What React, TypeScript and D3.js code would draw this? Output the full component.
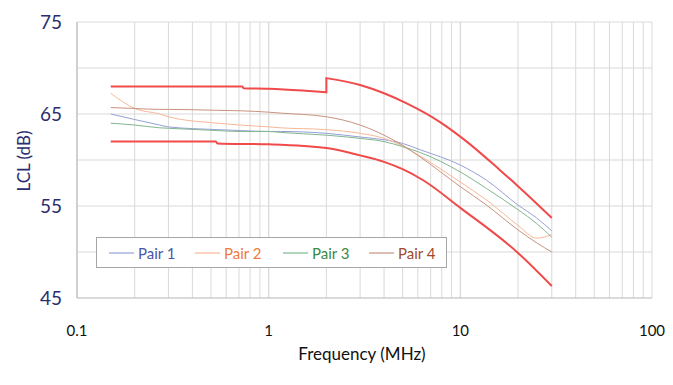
import React, { useEffect, useRef } from "react";
import * as d3 from "d3";

// frequencies (MHz) sampled for the four pairs
const pairFreqs = [0.15, 0.2, 0.27, 0.3, 0.54, 0.71, 1.0, 1.15, 2.0, 3.0, 4.0, 5.0, 6.2, 10, 13.7, 20, 25, 30];
const pair1 = [65.0, 64.4, 63.8, 63.6, 63.3, 63.2, 63.1, 63.1, 62.9, 62.5, 62.2, 61.8, 61.1, 59.45, 57.8, 55.1, 53.7, 52.3];
const pair2 = [67.25, 65.6, 65.0, 64.7, 64.0, 63.8, 63.6, 63.5, 63.3, 62.9, 62.35, 61.5, 60.4, 57.6, 55.65, 52.9, 51.5, 51.9];
const pair3 = [64.0, 63.8, 63.5, 63.45, 63.2, 63.1, 63.1, 63.0, 62.7, 62.35, 62.0, 61.45, 60.8, 58.7, 56.9, 54.6, 53.1, 51.6];
const pair4 = [65.7, 65.6, 65.5, 65.5, 65.4, 65.35, 65.2, 65.1, 64.7, 63.8, 62.7, 61.6, 60.3, 57.1, 55.1, 52.4, 51.0, 50.0];

// limit lines (upper one jumps at 2 MHz)
const upperLowFreqs = [0.15, 0.73, 0.74, 1.0, 1.5, 2.0];
const upperLowVals = [68.0, 68.0, 67.8, 67.75, 67.55, 67.35];
const upperHighFreqs = [2.0, 3.0, 4.0, 5.25, 7.8, 10.8, 16, 20, 30];
const upperHighVals = [68.9, 68.15, 67.25, 66.15, 64.15, 62.0, 58.95, 57.15, 53.7];
const lowerFreqs = [0.15, 0.53, 0.54, 1.0, 2.0, 3.0, 4.0, 5.0, 6.4, 10, 20, 30];
const lowerVals = [62.0, 62.0, 61.8, 61.7, 61.3, 60.5, 59.8, 59.0, 57.8, 54.8, 49.9, 46.3];

const seriesNames = ["Pair 1", "Pair 2", "Pair 3", "Pair 4"];
const lineColors = ["#97a0d6", "#f8b897", "#80b78f", "#c9927f"];
const textColors = ["#4a56aa", "#f07a3c", "#3a8a44", "#a04a2c"];

const yTicks = [45, 55, 65, 75];
const xTicks = [0.1, 1, 10, 100];
const xTickLabels = ["0.1", "1", "10", "100"];

const W = 673;
const H = 385;
const margin = { top: 22, right: 21, bottom: 87, left: 77 };

export default function App() {
  const svgRef = useRef<SVGSVGElement>(null);

  useEffect(() => {
    const svg = d3.select(svgRef.current);
    svg.selectAll("*").remove();
    const font = "Lato, 'Open Sans', sans-serif";

    const x = d3.scaleLog().domain([0.1, 100]).range([margin.left, W - margin.right]);
    const y = d3.scaleLinear().domain([45, 75]).range([H - margin.bottom, margin.top]);

    const g = svg.append("g");

    // vertical grid (minor + major)
    const vGrid: number[] = [];
    for (let dec = 0.1; dec < 100; dec *= 10) {
      for (let k = 1; k <= 10; k++) vGrid.push(+(dec * k).toPrecision(3));
    }
    g.selectAll("line.vg")
      .data(vGrid)
      .enter()
      .append("line")
      .attr("x1", (d) => x(d))
      .attr("x2", (d) => x(d))
      .attr("y1", y(75))
      .attr("y2", y(45))
      .attr("stroke", "#d9d9d9")
      .attr("stroke-width", 1);

    // horizontal grid every 5 dB
    g.selectAll("line.hg")
      .data(d3.range(50, 76, 5))
      .enter()
      .append("line")
      .attr("x1", x(0.1))
      .attr("x2", x(100))
      .attr("y1", (d) => y(d))
      .attr("y2", (d) => y(d))
      .attr("stroke", "#d9d9d9")
      .attr("stroke-width", 1);

    // axis lines
    g.append("line")
      .attr("x1", x(0.1)).attr("x2", x(0.1))
      .attr("y1", y(75)).attr("y2", y(45))
      .attr("stroke", "#b5b5b5");
    g.append("line")
      .attr("x1", x(0.1)).attr("x2", x(100))
      .attr("y1", y(45)).attr("y2", y(45))
      .attr("stroke", "#b5b5b5");

    const line = d3
      .line<[number, number]>()
      .x((d) => x(d[0]))
      .y((d) => y(d[1]))
      .curve(d3.curveMonotoneX);

    // pairs
    [pair1, pair2, pair3, pair4].forEach((vals, i) => {
      const pts = pairFreqs.map((f, j) => [f, vals[j]] as [number, number]);
      g.append("path")
        .attr("d", line(pts))
        .attr("fill", "none")
        .attr("stroke", lineColors[i])
        .attr("stroke-width", 1);
    });

    // limits
    const upperLow = upperLowFreqs.map((f, j) => [f, upperLowVals[j]] as [number, number]);
    const upperHigh = upperHighFreqs.map((f, j) => [f, upperHighVals[j]] as [number, number]);
    const upperPath = line(upperLow) + "L" + line(upperHigh)!.slice(1);
    g.append("path")
      .attr("d", upperPath)
      .attr("fill", "none")
      .attr("stroke", "#f04a4a")
      .attr("stroke-width", 2);
    const lower = lowerFreqs.map((f, j) => [f, lowerVals[j]] as [number, number]);
    g.append("path")
      .attr("d", line(lower))
      .attr("fill", "none")
      .attr("stroke", "#f04a4a")
      .attr("stroke-width", 2);

    // y ticks
    g.selectAll("text.yt")
      .data(yTicks)
      .enter()
      .append("text")
      .attr("x", 62)
      .attr("y", (d) => y(d) + 6.5)
      .attr("text-anchor", "end")
      .attr("font-family", font)
      .attr("font-size", 19)
      .attr("fill", "#2b2d6e")
      .text((d) => d);

    // x ticks
    g.selectAll("text.xt")
      .data(xTicks)
      .enter()
      .append("text")
      .attr("x", (d) => x(d))
      .attr("y", 336)
      .attr("text-anchor", "middle")
      .attr("font-family", font)
      .attr("font-size", 15)
      .attr("fill", "#111")
      .text((d, i) => xTickLabels[i]);

    g.append("text")
      .attr("x", 362)
      .attr("y", 360)
      .attr("text-anchor", "middle")
      .attr("font-family", font)
      .attr("font-size", 17)
      .attr("fill", "#111")
      .text("Frequency (MHz)");

    g.append("text")
      .attr("transform", "translate(30,161) rotate(-90)")
      .attr("text-anchor", "middle")
      .attr("font-family", font)
      .attr("font-size", 17)
      .attr("fill", "#2b2d6e")
      .text("LCL (dB)");

    // legend
    const lg = g.append("g");
    lg.append("rect")
      .attr("x", 96.5)
      .attr("y", 237.5)
      .attr("width", 350)
      .attr("height", 30)
      .attr("fill", "#fff")
      .attr("stroke", "#a6a6a6");
    const itemX = [109, 195, 283, 369];
    seriesNames.forEach((name, i) => {
      lg.append("line")
        .attr("x1", itemX[i]).attr("x2", itemX[i] + 25)
        .attr("y1", 253).attr("y2", 253)
        .attr("stroke", lineColors[i])
        .attr("stroke-width", 1.2);
      lg.append("text")
        .attr("x", itemX[i] + 29)
        .attr("y", 258.5)
        .attr("font-family", font)
        .attr("font-size", 15)
        .attr("fill", textColors[i])
        .text(name);
    });
  }, []);

  return (
    <svg
      ref={svgRef}
      width={W}
      height={H}
      style={{ position: "absolute", left: 0, top: 0, background: "#fff" }}
    />
  );
}
